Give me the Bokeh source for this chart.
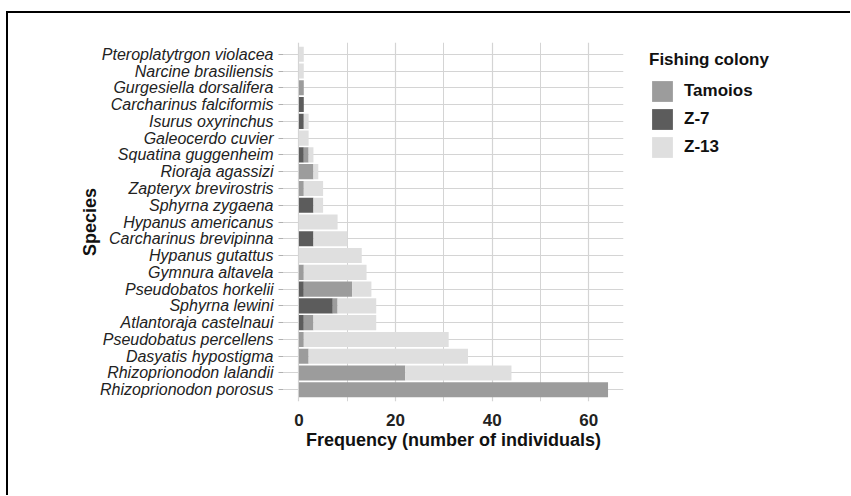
from bokeh.plotting import figure
from bokeh.models import (ColumnDataSource, FactorRange, Range1d, FixedTicker,
                          Legend, LegendItem)
from bokeh.layouts import row
from bokeh.embed import file_html
from bokeh.resources import INLINE

# ---- data (top to bottom as shown) ----
species = [
    "Pteroplatytrgon violacea", "Narcine brasiliensis", "Gurgesiella dorsalifera",
    "Carcharinus falciformis", "Isurus oxyrinchus", "Galeocerdo cuvier",
    "Squatina guggenheim", "Rioraja agassizi", "Zapteryx brevirostris",
    "Sphyrna zygaena", "Hypanus americanus", "Carcharinus brevipinna",
    "Hypanus gutattus", "Gymnura altavela", "Pseudobatos horkelii",
    "Sphyrna lewini", "Atlantoraja castelnaui", "Pseudobatus percellens",
    "Dasyatis hypostigma", "Rhizoprionodon lalandii", "Rhizoprionodon porosus",
]
z7 = [0, 0, 0, 1, 1, 0, 1, 0, 0, 3, 0, 3, 0, 0, 1, 7, 1, 0, 0, 0, 0]
tamoios = [0, 0, 1, 0, 0, 0, 1, 3, 1, 0, 0, 0, 0, 1, 10, 1, 2, 1, 2, 22, 64]
z13 = [1, 1, 0, 0, 1, 2, 1, 1, 4, 2, 8, 7, 13, 13, 4, 8, 13, 30, 33, 22, 0]
x_ticks = [0, 20, 40, 60]
x_minor = [10, 30, 50]
colonies = ["Tamoios", "Z-7", "Z-13"]

colors = {"Tamoios": "#9c9c9c", "Z-7": "#5c5c5c", "Z-13": "#dfdfdf"}

src = ColumnDataSource(dict(species=species, **{"Z-7": z7, "Tamoios": tamoios, "Z-13": z13}))

FONT = "Liberation Sans"
stack_order = ["Z-7", "Tamoios", "Z-13"]

p = figure(width=620, height=482,
           y_range=FactorRange(*reversed(species), range_padding=0.2,
                               range_padding_units="absolute"),
           x_range=Range1d(-3.2, 67.2),
           output_backend="svg", toolbar_location=None,
           min_border_left=275, min_border_right=5,
           min_border_top=29, min_border_bottom=94)

rs = p.hbar_stack(stack_order, y="species", height=0.9,
                  color=[colors[c] for c in stack_order], line_color=None, source=src)

p.outline_line_color = None
p.background_fill_color = "white"
p.border_fill_color = "white"

# grid
p.xgrid.ticker = FixedTicker(ticks=x_ticks, minor_ticks=x_minor)
p.xgrid.grid_line_color = "#d4d4d4"
p.xgrid.minor_grid_line_color = "#d4d4d4"
p.ygrid.grid_line_color = "#d4d4d4"
p.xgrid.grid_line_width = 1.2
p.ygrid.grid_line_width = 1.2

# x axis
p.xaxis.ticker = FixedTicker(ticks=x_ticks, minor_ticks=x_minor)
p.xaxis.axis_line_color = None
p.xaxis.major_tick_line_color = None
p.xaxis.minor_tick_line_color = None
p.xaxis.major_label_standoff = 6
p.xaxis.major_label_text_font = FONT
p.xaxis.major_label_text_font_size = "17px"
p.xaxis.major_label_text_font_style = "bold"
p.xaxis.major_label_text_color = "#222222"
p.xaxis.axis_label = "Frequency (number of individuals)"
p.xaxis.axis_label_text_font = FONT
p.xaxis.axis_label_text_font_size = "18px"
p.xaxis.axis_label_text_font_style = "bold"
p.xaxis.axis_label_text_color = "#111111"
p.xaxis.axis_label_standoff = 1

# y axis
p.yaxis.axis_line_color = None
p.yaxis.major_tick_line_color = "#b0b0b0"
p.yaxis.major_tick_in = 0
p.yaxis.major_tick_out = 5
p.yaxis.major_label_standoff = 5
p.yaxis.major_label_text_font = FONT
p.yaxis.major_label_text_font_size = "16px"
p.yaxis.major_label_text_font_style = "italic"
p.yaxis.major_label_text_color = "#222222"
p.yaxis.axis_label = "Species"
p.yaxis.axis_label_text_font = FONT
p.yaxis.axis_label_text_font_size = "18px"
p.yaxis.axis_label_text_font_style = "bold"
p.yaxis.axis_label_text_color = "#111111"
p.yaxis.axis_label_standoff = -3

# ---- legend panel (separate canvas so the legend is not clipped) ----
# zero-height copies of the bars, kept out of view: only their legend
# swatches are shown
lg = figure(width=222, height=482, output_backend="svg", toolbar_location=None,
            x_range=Range1d(1000, 1001), y_range=FactorRange(*reversed(species)),
            x_axis_location=None, y_axis_location=None,
            min_border_left=13, min_border_right=0,
            min_border_top=0, min_border_bottom=0)
lg.grid.visible = False
lg.outline_line_color = None
lg.background_fill_color = "white"
lg.border_fill_color = "white"

lrs = lg.hbar_stack(stack_order, y="species", height=0,
                    color=[colors[c] for c in stack_order], line_color=None, source=src)
by_name = dict(zip(stack_order, lrs))
items = [LegendItem(label=c, renderers=[by_name[c]]) for c in colonies]

legend = Legend(items=items, title="Fishing colony")
legend.title_text_font = FONT
legend.title_text_font_size = "17px"
legend.title_text_font_style = "bold"
legend.title_text_color = "#111111"
legend.title_standoff = 8
legend.label_text_font = FONT
legend.label_text_font_size = "17px"
legend.label_text_font_style = "bold"
legend.label_text_color = "#111111"
legend.glyph_width = 26
legend.glyph_height = 26
legend.label_height = 26
legend.spacing = 2
legend.label_standoff = 9
legend.padding = 6
legend.margin = 8
legend.border_line_color = None
legend.background_fill_alpha = 0
legend.location = "top_left"
lg.add_layout(legend)

layout = row(p, lg)
# outer figure border (top and left), as in the reference
layout.styles = {"position": "relative", "top": "11px", "left": "6px",
                 "border-top": "2px solid black", "border-left": "2px solid black"}

open("out.html", "w").write(file_html(layout, INLINE))
